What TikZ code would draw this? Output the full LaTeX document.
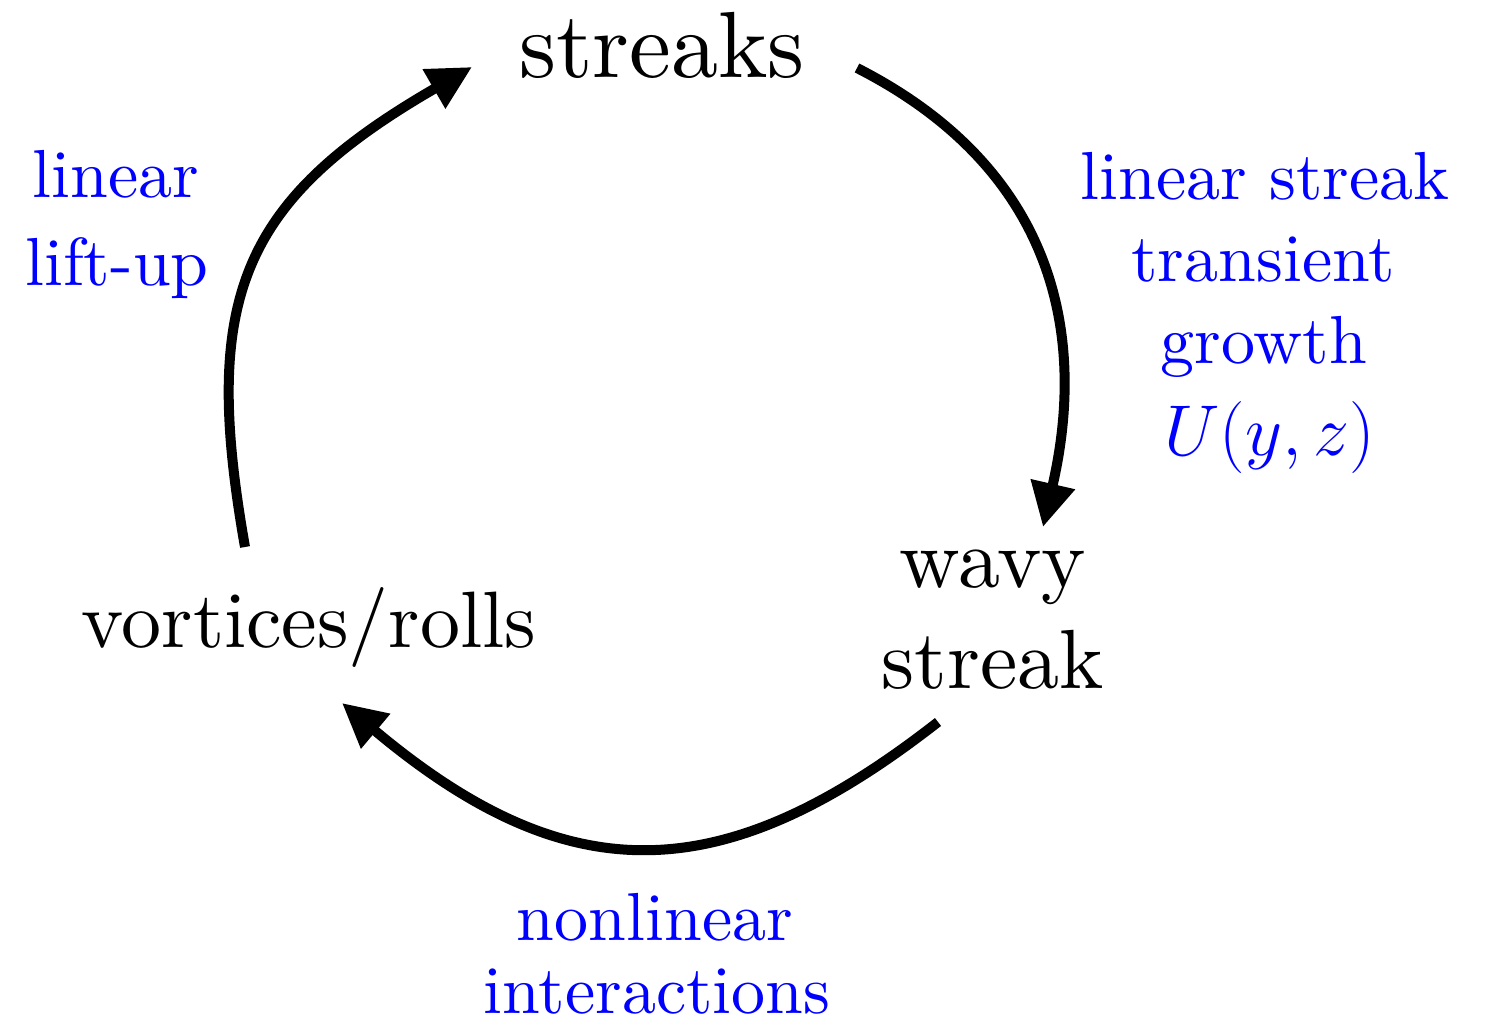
\RequirePackage{fix-cm}
\documentclass[tikz,border=0pt]{standalone}
\usepackage{fontspec}
\setmainfont{lmroman10-regular}[Extension=.otf]
\usetikzlibrary{arrows.meta}
\begin{document}
\begin{tikzpicture}[x=0.5pt,y=0.5pt,
  cyc/.style={line width=5pt,-{Triangle[length=22pt,width=21.5pt]}},
  blk/.style={anchor=base,inner sep=0pt,text=black},
  blu/.style={anchor=base,inner sep=0pt,text=blue,font=\fontsize{34}{41}\selectfont}]
\useasboundingbox (0,0) rectangle (1488,1025);
% main states
\node[blk,font=\fontsize{47}{56}\selectfont] (streaks) at (662,947) {streaks};
\node[blk,font=\fontsize{40}{48}\selectfont] (vort) at (309,378) {vortices/rolls};
\node[blk,font=\fontsize{42}{50}\selectfont] (wavy1) at (993,438) {wavy};
\node[blk,font=\fontsize{42}{50}\selectfont] (wavy2) at (993,337) {streak};
% blue labels
\node[blu] (lsg1) at (1265,825) {linear streak};
\node[blu] (lsg2) at (1263,743) {transient};
\node[blu] (lsg3) at (1264,662) {growth};
\node[blu,font=\fontsize{36}{43}\selectfont] (lsg4) at (1270,570) {$U(y,z)$};
\node[blu] (llu1) at (116,827) {linear};
\node[blu] (llu2) at (117,740) {lift-up};
\node[blu] (nli1) at (655,85) {nonlinear};
\node[blu] (nli2) at (657,12) {interactions};
% arrow end points
\coordinate (l0) at (245,478);
\coordinate (l1) at (472,958);
\coordinate (r0) at (857,957);
\coordinate (r1) at (1043,498);
\coordinate (b0) at (938,303);
\coordinate (b1) at (342,322);
\draw[cyc] (l0) .. controls +(100:250) and +(210:270) .. (l1);
\draw[cyc] (r0) .. controls +(-27:220) and +(77:200) .. (r1);
\draw[cyc] (b0) .. controls +(218:274) and +(320:295) .. (b1);
\end{tikzpicture}
\end{document}
